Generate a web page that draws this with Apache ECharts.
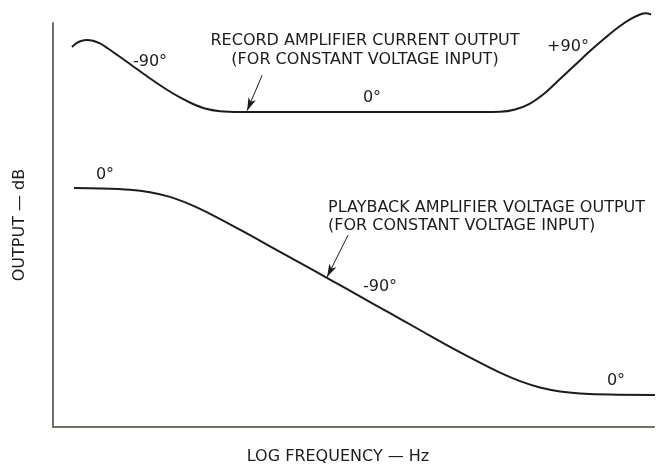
<!DOCTYPE html>
<html>
<head>
<meta charset="utf-8">
<title>Record and playback amplifier response</title>
<script src="https://cdn.jsdelivr.net/npm/echarts@6/dist/echarts.min.js"></script>
<style>
  html, body { margin: 0; padding: 0; background: #ffffff; }
  #chart { width: 665px; height: 464px; }
</style>
</head>
<body>
<div id="chart"></div>
<script>
// Relative log-frequency position (0 = left edge, 100 = right edge) and output level (relative dB units)
const recordFreq  = [3.16, 3.83, 4.66, 5.66, 6.66, 7.82, 9.15, 10.82, 12.81, 15.81, 18.64, 21.13, 23.13, 25.29, 27.79, 31.11,
                     41.0, 56.0, 71.05, 74.38, 76.87, 79.37, 81.86, 84.36, 86.86, 89.35, 91.85, 94.01, 96.01, 97.67, 98.67, 99.5];
const recordLevel = [94.06, 94.93, 95.54, 95.79, 95.59, 94.93, 93.69, 91.96, 89.85, 86.63, 83.79, 81.56, 80.07, 78.84, 78.17, 77.97,
                     77.97, 77.97, 77.97, 78.02, 78.59, 80.07, 82.67, 86.14, 89.60, 93.07, 96.29, 98.89, 100.87, 102.10, 102.43, 102.10];

const playbackFreq  = [3.49, 7.82, 12.81, 16.14, 19.47, 22.80, 26.46, 31.11, 36.11, 41.10, 46.09, 51.08, 56.07, 61.06, 66.06,
                       70.88, 74.38, 77.70, 81.03, 84.36, 87.69, 92.68, 100.5];
const playbackLevel = [59.16, 59.06, 58.74, 58.12, 56.96, 55.10, 52.52, 48.84, 44.73, 40.64, 36.49, 32.33, 28.17, 24.01, 19.85,
                       16.04, 13.44, 11.34, 9.78, 8.81, 8.32, 8.02, 7.92];

const xTitle = 'LOG FREQUENCY — Hz';
const yTitle = 'OUTPUT — dB';

const pairs = (xs, ys) => xs.map((x, i) => [x, ys[i]]);

const ink = '#1c1c1c';
const axisInk = '#6f6f66';
const font = '16px "DejaVu Sans", sans-serif';

function label(text, x, y, align) {
  return {
    type: 'text', x: x, y: y, silent: true,
    style: { text: text, font: font, fill: ink, textAlign: align || 'center', textVerticalAlign: 'middle' }
  };
}

function pointer(from, to) {
  return {
    silent: true, symbol: ['none', 'arrow'], symbolSize: [6, 13],
    label: { show: false },
    lineStyle: { color: ink, width: 1, type: 'solid' },
    data: [[{ coord: from }, { coord: to }]]
  };
}

const chart = echarts.init(document.getElementById('chart'), null, { renderer: 'canvas' });

chart.setOption({
  animation: false,
  backgroundColor: '#ffffff',
  grid: { left: 53, right: 11, top: 23, bottom: 37, containLabel: false },
  xAxis: {
    type: 'value', min: 0, max: 100,
    axisLine: { show: true, lineStyle: { color: axisInk, width: 2 } },
    axisTick: { show: false }, axisLabel: { show: false }, splitLine: { show: false }
  },
  yAxis: {
    type: 'value', min: 0, max: 100,
    axisLine: { show: true, lineStyle: { color: axisInk, width: 2 } },
    axisTick: { show: false }, axisLabel: { show: false }, splitLine: { show: false }
  },
  series: [
    {
      name: 'Record amplifier current output',
      type: 'line', smooth: 0.3, symbol: 'none', clip: false,
      lineStyle: { color: ink, width: 2 },
      data: pairs(recordFreq, recordLevel),
      markLine: pointer([34.8, 87.1], [32.3, 78.3])
    },
    {
      name: 'Playback amplifier voltage output',
      type: 'line', smooth: 0.3, symbol: 'none', clip: false,
      lineStyle: { color: ink, width: 2 },
      data: pairs(playbackFreq, playbackLevel),
      markLine: pointer([49.1, 47.5], [45.6, 37.1])
    }
  ],
  graphic: [
    label('RECORD AMPLIFIER CURRENT OUTPUT', 365, 41),
    label('(FOR CONSTANT VOLTAGE INPUT)', 365, 60),
    label('-90°', 150, 62),
    label('+90°', 568, 47),
    label('0°', 372, 98),
    label('0°', 105, 175),
    label('PLAYBACK AMPLIFIER VOLTAGE OUTPUT', 328, 208, 'left'),
    label('(FOR CONSTANT VOLTAGE INPUT)', 328, 226, 'left'),
    label('-90°', 380, 287),
    label('0°', 616, 381),
    label(xTitle, 338, 457),
    {
      type: 'text', x: 20, y: 225, rotation: Math.PI / 2, silent: true,
      style: { text: yTitle, font: font, fill: ink, textAlign: 'center', textVerticalAlign: 'middle' }
    }
  ]
});
</script>
</body>
</html>
